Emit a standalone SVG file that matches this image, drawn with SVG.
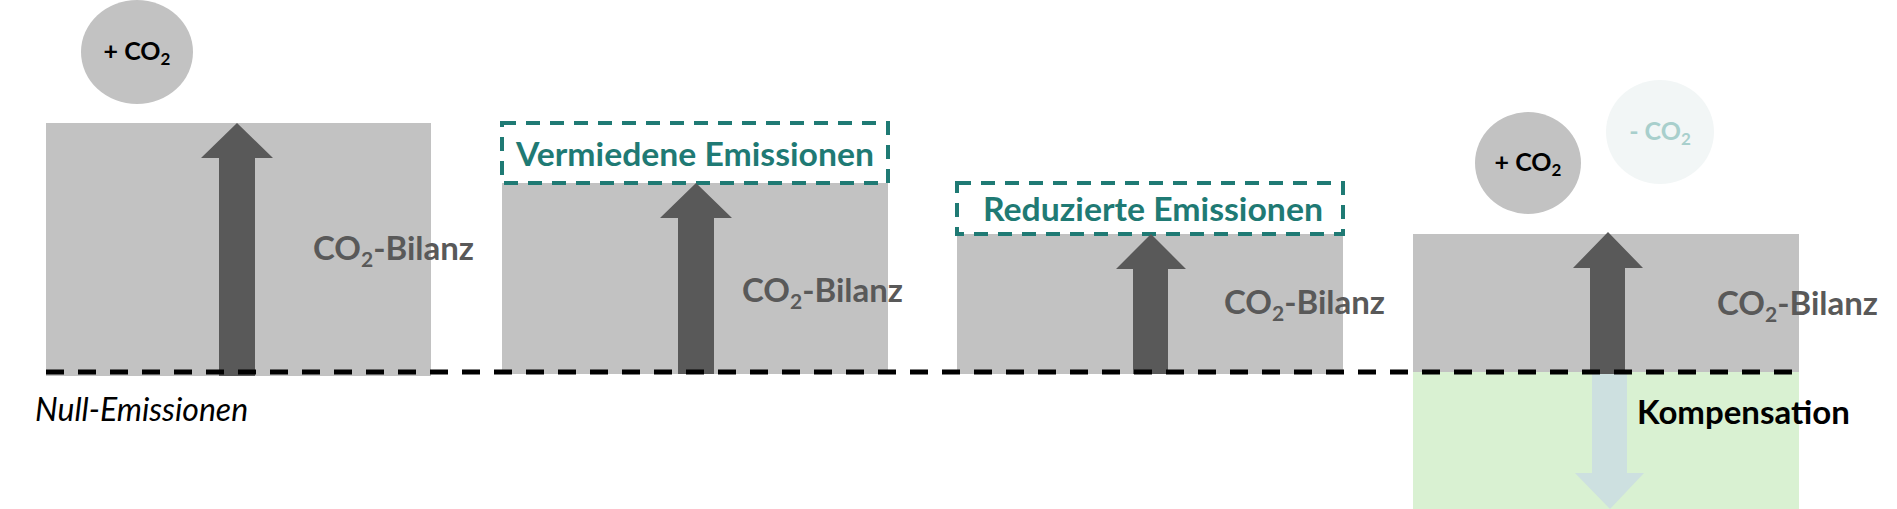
<svg xmlns="http://www.w3.org/2000/svg" width="1897" height="509" viewBox="0 0 1897 509">
<style>
.bar{fill:#c2c2c2}
.arr{fill:#595959}
.bil{font-family:Lato,"Liberation Sans",sans-serif;font-weight:bold;font-size:33px;fill:#595959}
.em{font-family:Lato,"Liberation Sans",sans-serif;font-weight:bold;font-size:32px;fill:#1f7a74}
.dbox{fill:none;stroke:#1f7a74;stroke-width:4;stroke-dasharray:14 10}
.co{font-family:Lato,"Liberation Sans",sans-serif;font-weight:bold;font-size:25px}
</style>
<rect width="1897" height="509" fill="#fff"/>
<g id="col1">
<rect class="bar" x="46" y="123" width="385" height="253"/>
<polygon class="arr" points="219,376 219,158 201,158 237,123 273,158 255,158 255,376"/>
<text class="bil" x="313" y="260">CO<tspan font-size="21" dy="7">2</tspan><tspan dy="-7">-Bilanz</tspan></text>
<ellipse cx="137" cy="52" rx="56" ry="52" fill="#c2c2c2"/>
<text class="co" x="137" y="60" text-anchor="middle" fill="#000">+ CO<tspan font-size="17" dy="5">2</tspan></text>
</g>
<g id="col2">
<rect class="bar" x="502" y="183" width="386" height="191"/>
<rect class="dbox" x="502" y="123" width="386" height="60"/>
<text class="em" x="516" y="166" textLength="358" lengthAdjust="spacingAndGlyphs">Vermiedene Emissionen</text>
<polygon class="arr" points="678,374 678,218 660,218 696,183 732,218 714,218 714,374"/>
<text class="bil" x="742" y="302">CO<tspan font-size="21" dy="7">2</tspan><tspan dy="-7">-Bilanz</tspan></text>
</g>
<g id="col3">
<rect class="bar" x="957" y="234" width="386" height="140"/>
<rect class="dbox" x="957" y="183" width="386" height="51"/>
<text class="em" x="983" y="221" textLength="340" lengthAdjust="spacingAndGlyphs">Reduzierte Emissionen</text>
<polygon class="arr" points="1133,374 1133,269 1116,269 1151,234 1186,269 1168,269 1168,374"/>
<text class="bil" x="1224" y="314">CO<tspan font-size="21" dy="7">2</tspan><tspan dy="-7">-Bilanz</tspan></text>
</g>
<g id="col4">
<rect x="1413" y="372" width="386" height="137" fill="#d9f1d2"/>
<rect class="bar" x="1413" y="234" width="386" height="138"/>
<polygon points="1592,374 1592,473 1575,473 1610,509 1644,473 1627,473 1627,374" fill="#cde0e0"/>
<polygon class="arr" points="1590,374 1590,268 1573,268 1608,232 1643,268 1625,268 1625,374"/>
<text class="bil" x="1717" y="315">CO<tspan font-size="21" dy="7">2</tspan><tspan dy="-7">-Bilanz</tspan></text>
<text x="1637" y="424" font-family="Lato,'Liberation Sans',sans-serif" font-weight="bold" font-size="33" fill="#000">Kompensation</text>
<ellipse cx="1528" cy="163" rx="53" ry="51" fill="#c2c2c2"/>
<text class="co" x="1528" y="171" text-anchor="middle" fill="#000">+ CO<tspan font-size="17" dy="5">2</tspan></text>
<ellipse cx="1660" cy="132" rx="54" ry="52" fill="#f2f6f6"/>
<text class="co" x="1660" y="140" text-anchor="middle" fill="#a8cfcc">- CO<tspan font-size="17" dy="5">2</tspan></text>
</g>
<g id="connectors">
<line x1="46" y1="372" x2="1799" y2="372" stroke="#000" stroke-width="5" stroke-dasharray="18 14"/>
</g>
<text x="35" y="421" font-family="Lato,'Liberation Sans',sans-serif" font-style="italic" font-size="32" fill="#000">Null-Emissionen</text>
</svg>
